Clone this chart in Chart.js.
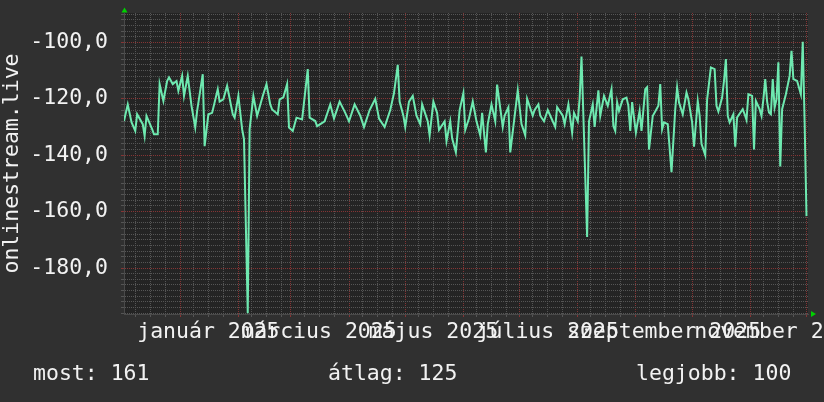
<!DOCTYPE html>
<html><head><meta charset="utf-8">
<script src="https://cdn.jsdelivr.net/npm/chart.js@4.4.1/dist/chart.umd.min.js"></script>
<style>html,body{margin:0;padding:0;background:#303030;overflow:hidden}</style>
</head><body>
<canvas id="c" width="824" height="402"></canvas>
<script>
// ---- data ----
const startDate = [2024, 11, 2];          // day 0 = 2024-12-02
const rangeDays = 364.8;
const dayOffsets = [0,2,4,6,7,10,11,12,15,16,18,19,21,23,24,26,28,29,31,32,34,36,38,39,42,43,45,47,50,51,53,55,58,59,61,63,64,66,67,69,71,74,76,78,79,82,83,85,87,88,90,92,95,98,99,102,103,
107,110,112,115,118,120,123,126,128,131,134,136,139,142,144,146,147,149,150,152,154,156,158,159,162,163,165,167,168,171,172,174,175,177,179,181,182,184,186,188,190,191,193,194,196,198,199,202,203,205,206,208,210,212,214,215,218,219,221,222,224,226,228,230,231,234,235,237,239,240,242,243,244,245,247,248,250,251,253,
254,256,258,260,261,262,263,264,266,268,269,270,271,273,275,276,278,279,280,282,285,286,287,288,290,292,294,295,296,298,300,301,303,304,306,307,308,310,311,313,315,316,317,319,320,321,322,323,325,326,327,330,331,332,333,335,336,337,339,340,341,342,343,344,345,346,347,348,349,350,351,353,355,356,357,359,361,362,363,364];
const values = [-127.9,-122,-128.3,-131.4,-125.5,-129,-133.2,-126.1,-130.8,-132.6,-132.6,-114.8,-120.8,-113.7,-112.4,-114.8,-113.7,-117.2,-111.9,-119,-111.9,-122.5,-130.2,-124.3,-111.3,-136.8,-125.5,-125,-116.6,-121,-120.2,-115.4,-125.5,-126.7,-119,-130.8,-134.4,-196,-130.8,-119,-126.1,-119,-114.8,-122,-123.8,-125.5,-120.2,-119.5,-114.8,-130.2,-131.4,-126.7,-127.3,-109.5,-126.7,-127.9,-129.7,
-128,-122,-127,-121,-125,-128,-122,-126,-130,-124,-120,-127,-130,-124,-118,-108,-121,-126,-130,-121,-119,-126,-129,-122,-128,-133,-121,-125,-131,-128,-135,-128,-134,-139,-124,-118,-131,-127,-121,-128,-133,-125,-139,-129,-122,-128,-115,-130,-126,-123,-139,-128,-117,-129,-133,-120,-126,-124,-122,-126,-128,-124,-127,-130,-123,-126,-129,-122,-132,-125,-128,-120,-105,-126,-169,-128,-122,-130,-117,
-126.1,-119,-122.5,-116.6,-129.7,-131.4,-121.2,-124.3,-120.2,-119.6,-122.5,-131.4,-121.2,-132,-124.3,-131.4,-116.6,-115.9,-138,-126.1,-122.5,-114.8,-130.8,-128.4,-129,-146,-123.7,-116,-121.3,-125.5,-117.8,-120.2,-128.4,-137,-120.8,-126,-136,-140,-120.2,-108.9,-109.5,-122.5,-124.5,-119.6,-113.7,-105.9,-126.1,-128.4,-125.5,-137,-126.6,-123.7,-125.5,-127.5,-118.4,-119,-138,-120.8,-123.7,-126.1,-120.2,-113,-121,-124.9,-125.5,-113,-123.1,-120.2,-107.1,-144,-123.7,-118.4,-111.9,-103,-113,-113.7,-118.4,-99.8,-128.4,-161.6];
const yMin = -196.3, yMax = -89.6, yMinorStep = 2;
const yTickValues = [-180, -160, -140, -120, -100];
const xLabelMonths = [[2025,0],[2025,2],[2025,4],[2025,6],[2025,8],[2025,10]];
const xLabels = ['január 2025','március 2025','május 2025','július 2025','szeptember 2025','november 2025'];
const yTitle = 'onlinestream.live';
const legendNames = ['most:', 'átlag:', 'legjobb:'];
const legendValues = ['161', '125', '100'];

// ---- styles ----
const FONT = '"DejaVu Sans Mono", "Liberation Mono", monospace';
const FSIZE = 21.5;
const TXT = '#f2f2f2';
const OUTER = '#303030';
const PLOT = '#242424';
const MINOR = '#555555';
const MAJOR = '#853434';
const LINE = '#6ee9b0';
const ARROW = '#00d000';

const t0 = Date.UTC(startDate[0], startDate[1], startDate[2]);
const dayOf = (y, m, d) => (Date.UTC(y, m, d) - t0) / 86400000;

// x grid ticks: month starts (major) and days 8/16/24 (minor)
const gridTicks = [];
for (let k = 0; k < 14; k++) {
  const y = 2024 + Math.floor((11 + k) / 12), m = (11 + k) % 12;
  [[1, true], [8, false], [16, false], [24, false]].forEach(([d, maj]) => {
    const v = dayOf(y, m, d);
    if (v >= 0 && v <= rangeDays) gridTicks.push({value: v, major: maj});
  });
}
gridTicks.sort((a, b) => a.value - b.value);
const labelTicks = xLabelMonths.map(([y, m]) => ({value: dayOf(y, m, 16)}));

const fmtY = v => v.toFixed(1).replace('.', ',');
const n = Math.min(dayOffsets.length, values.length);
const points = [];
for (let i = 0; i < n; i++) points.push({x: dayOffsets[i], y: values[i]});

const bgPlugin = {
  id: 'bg',
  beforeDraw(chart) {
    const {ctx, chartArea: a} = chart;
    ctx.save();
    ctx.fillStyle = OUTER; ctx.fillRect(0, 0, chart.width, chart.height);
    ctx.fillStyle = PLOT; ctx.fillRect(a.left, a.top, a.right - a.left, a.bottom - a.top);
    ctx.restore();
  },
  afterDraw(chart) {
    const {ctx, chartArea: a} = chart;
    ctx.save();
    ctx.fillStyle = ARROW;
    ctx.beginPath();
    ctx.moveTo(a.left - 2.5, a.top - 0.5); ctx.lineTo(a.left + 3.5, a.top - 0.5); ctx.lineTo(a.left + 0.5, a.top - 5.5);
    ctx.closePath(); ctx.fill();
    ctx.beginPath();
    ctx.moveTo(a.right + 3, a.bottom - 3); ctx.lineTo(a.right + 3, a.bottom + 3); ctx.lineTo(a.right + 8, a.bottom);
    ctx.closePath(); ctx.fill();
    ctx.fillStyle = TXT;
    ctx.font = FSIZE + 'px ' + FONT;
    ctx.textBaseline = 'middle';
    ctx.textAlign = 'left';
    const xs = [33, 328, 636];
    legendNames.forEach((nm, i) => ctx.fillText(nm + ' ' + legendValues[i], xs[i], 374));
    ctx.restore();
  }
};

new Chart(document.getElementById('c'), {
  type: 'line',
  data: {
    datasets: [{
      data: points,
      borderColor: LINE, borderWidth: 2, pointRadius: 0, tension: 0,
      xAxisID: 'x', yAxisID: 'y'
    }]
  },
  options: {
    responsive: false, animation: false, devicePixelRatio: 1,
    layout: {padding: {top: 13, right: 16, left: 0, bottom: 55}},
    plugins: {legend: {display: false}, tooltip: {enabled: false}},
    scales: {
      x: {
        type: 'linear', position: 'bottom', min: 0, max: rangeDays, weight: 0,
        afterBuildTicks: s => { s.ticks = gridTicks.map(t => ({value: t.value, major: t.major})); },
        ticks: {display: false, autoSkip: false},
        grid: {
          color: c => (c.tick && c.tick.major) ? MAJOR : MINOR,
          tickColor: c => (c.tick && c.tick.major) ? MAJOR : MINOR,
          drawTicks: true, tickLength: 3, lineWidth: 1
        },
        border: {display: true, color: '#4a4a4a', dash: [1, 1]},
        afterFit: s => { s.height = 3; s.paddingLeft = 0; s.paddingRight = 0; }
      },
      x2: {
        type: 'linear', position: 'bottom', min: 0, max: rangeDays, weight: 1,
        afterBuildTicks: s => { s.ticks = labelTicks.map(t => ({value: t.value})); },
        ticks: {
          autoSkip: false, maxRotation: 0, minRotation: 0, padding: 3, color: TXT,
          font: {family: FONT, size: FSIZE},
          callback: (v, i) => xLabels[i]
        },
        grid: {display: false, drawTicks: false},
        border: {display: false},
        afterFit: s => { s.height = 30; s.paddingLeft = 0; s.paddingRight = 0; }
      },
      y: {
        type: 'linear', min: yMin, max: yMax,
        afterBuildTicks: s => {
          const t = [];
          for (let v = Math.ceil(yMin / yMinorStep) * yMinorStep; v <= yMax; v += yMinorStep)
            t.push({value: v, major: yTickValues.includes(v)});
          s.ticks = t;
        },
        ticks: {
          autoSkip: false, padding: 13, color: TXT,
          font: {family: FONT, size: FSIZE},
          callback: v => yTickValues.includes(v) ? fmtY(v) : ''
        },
        grid: {
          color: c => (c.tick && c.tick.major) ? MAJOR : MINOR,
          tickColor: c => (c.tick && c.tick.major) ? MAJOR : MINOR,
          drawTicks: true, tickLength: 3, lineWidth: 1
        },
        border: {display: true, color: '#4a4a4a', dash: [1, 1]},
        title: {display: true, text: yTitle, color: TXT, font: {family: FONT, size: FSIZE}, padding: {top: 0, bottom: 0}},
        afterFit: s => { s.width = 124; s.paddingTop = 0; s.paddingBottom = 0; }
      }
    }
  },
  plugins: [bgPlugin]
});
</script>
</body></html>
